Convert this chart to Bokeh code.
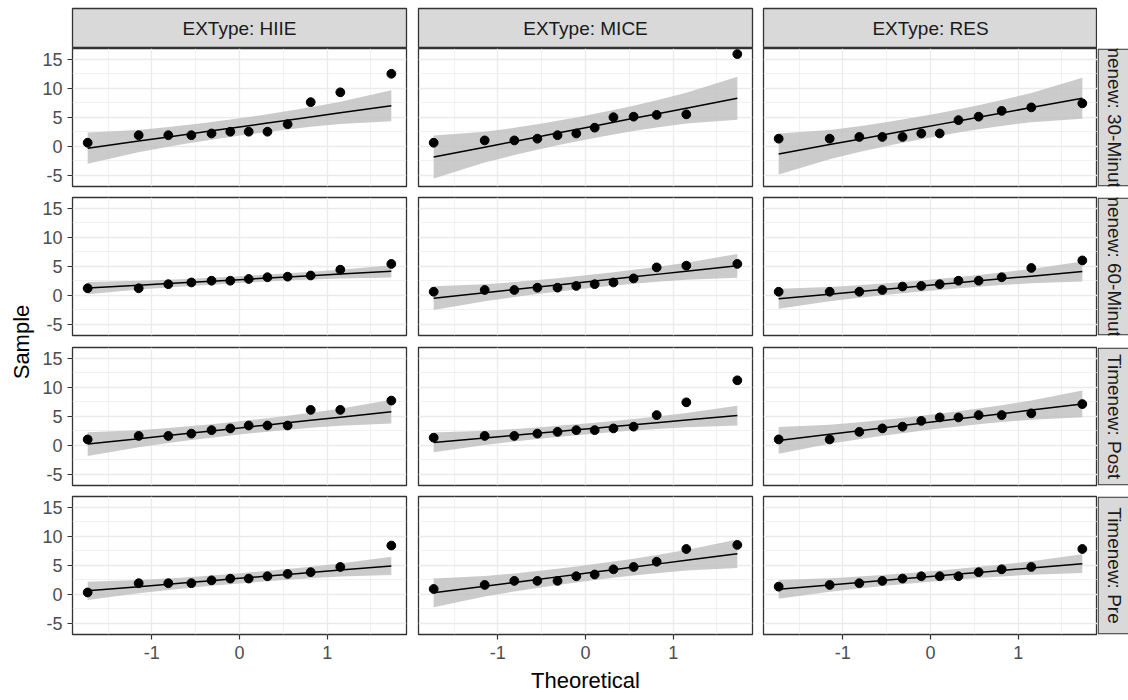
import math
import numpy as np
from bokeh.plotting import figure
from bokeh.layouts import row, column
from bokeh.models import (Range1d, FixedTicker, LinearAxis, Grid, ColumnDataSource,
                          PrintfTickFormatter)
from bokeh.core.properties import value
from bokeh.embed import file_html
from bokeh.resources import INLINE

# ---------------- data ----------------
ex_types = ["HIIE", "MICE", "RES"]
time_labels = ["Timenew: 30-Minutes", "Timenew: 60-Minutes", "Timenew: Post", "Timenew: Pre"]
theoretical = [-1.732, -1.150, -0.812, -0.549, -0.319, -0.105,
               0.105, 0.319, 0.549, 0.812, 1.150, 1.732]

hiie_30 = [0.6, 1.9, 1.9, 1.9, 2.2, 2.5, 2.5, 2.5, 3.8, 7.6, 9.3, 12.5]
mice_30 = [0.6, 1.0, 1.0, 1.3, 1.9, 2.2, 3.2, 5.0, 5.1, 5.4, 5.5, 15.9]
res_30 = [1.3, 1.3, 1.6, 1.6, 1.6, 2.2, 2.2, 4.5, 5.1, 6.1, 6.7, 7.4]

hiie_60 = [1.2, 1.2, 1.9, 2.2, 2.5, 2.5, 2.8, 3.1, 3.2, 3.4, 4.4, 5.4]
mice_60 = [0.6, 0.9, 0.9, 1.3, 1.3, 1.6, 1.9, 2.2, 2.9, 4.8, 5.1, 5.4]
res_60 = [0.6, 0.6, 0.6, 0.9, 1.5, 1.6, 1.9, 2.5, 2.5, 3.1, 4.7, 6.0]

hiie_post = [1.0, 1.6, 1.6, 2.0, 2.6, 2.9, 3.4, 3.4, 3.4, 6.1, 6.1, 7.7]
mice_post = [1.3, 1.6, 1.6, 2.0, 2.3, 2.6, 2.6, 2.9, 3.2, 5.2, 7.4, 11.2]
res_post = [1.0, 1.0, 2.3, 2.9, 3.2, 4.2, 4.8, 4.8, 5.2, 5.2, 5.5, 7.1]

hiie_pre = [0.3, 1.9, 1.9, 1.9, 2.4, 2.7, 2.7, 3.1, 3.5, 3.8, 4.7, 8.4]
mice_pre = [0.9, 1.6, 2.3, 2.3, 2.3, 3.1, 3.4, 4.3, 4.7, 5.6, 7.8, 8.5]
res_pre = [1.3, 1.6, 1.9, 2.3, 2.7, 3.1, 3.1, 3.1, 3.8, 4.3, 4.7, 7.8]

samples = [[hiie_30, mice_30, res_30],
           [hiie_60, mice_60, res_60],
           [hiie_post, mice_post, res_post],
           [hiie_pre, mice_pre, res_pre]]

x_ticks = [-1, 0, 1]
x_minor = [-1.5, -0.5, 0.5, 1.5]
y_ticks = [-5, 0, 5, 10, 15]
y_minor = [-2.5, 2.5, 7.5, 12.5]

# ---------------- style ----------------
FONT = "Liberation Sans"
STRIP_FILL = "#D9D9D9"
BORDER = "#333333"
GRID = "#EBEBEB"
TICK_TXT = "#4D4D4D"

PANEL_W, PANEL_H = 334, 138
STRIP_H = 40
LEFT_W = 36
col_borders = [(36, 6), (6, 5), (6, 0)]
row_borders = [(0, 5), (6, 6), (6, 5), (6, 66)]


def qq_stats(sample):
    """qq line through quartiles and 95% pointwise band (as stat_qq_line / stat_qq_band)."""
    y = np.sort(np.asarray(sample, float))
    x = np.asarray(theoretical, float)
    q25, q75 = np.percentile(y, [25, 75])
    z = 0.6744898
    slope = (q75 - q25) / (2 * z)
    intercept = q25 + slope * z
    fit = intercept + slope * x
    p = np.array([0.5 * (1 + math.erf(v / math.sqrt(2))) for v in x])
    dens = np.exp(-x ** 2 / 2) / math.sqrt(2 * math.pi)
    se = slope / dens * np.sqrt(p * (1 - p) / len(y))
    return y, fit, fit - 1.959964 * se, fit + 1.959964 * se


def strip_clean(p):
    p.center = [r for r in p.center if not isinstance(r, Grid)]


def base_fig(**kw):
    p = figure(toolbar_location=None, output_backend="svg",
               x_axis_location=None, y_axis_location=None,
               border_fill_color="white", min_border=0, **kw)
    strip_clean(p)
    return p


def make_panel(r, c):
    lb, rb = col_borders[c]
    tb, bb = row_borders[r]
    p = base_fig(frame_width=PANEL_W, frame_height=PANEL_H,
                 min_border_left=lb, min_border_right=rb,
                 min_border_top=tb, min_border_bottom=bb,
                 x_range=Range1d(-1.905, 1.905), y_range=Range1d(-6.95, 16.86),
                 background_fill_color="white",
                 outline_line_color=BORDER, outline_line_width=1.3)
    for dim, tk, mn in ((0, x_ticks, x_minor), (1, y_ticks, y_minor)):
        g = Grid(dimension=dim, ticker=FixedTicker(ticks=tk, minor_ticks=mn),
                 grid_line_color=GRID, grid_line_width=1.3,
                 minor_grid_line_color=GRID, minor_grid_line_width=0.7)
        p.add_layout(g, "center")

    y, fit, lo, hi = qq_stats(samples[r][c])
    src = ColumnDataSource(dict(x=theoretical, y=y, fit=fit, lo=lo, hi=hi))
    p.varea(x="x", y1="lo", y2="hi", source=src, fill_color="#BEBEBE", fill_alpha=0.8)
    p.line(x="x", y="fit", source=src, line_color="black", line_width=1.5)
    p.scatter(x="x", y="y", source=src, size=8.8, fill_color="black", line_color="black")

    common = dict(axis_line_color=None, major_tick_line_color=BORDER,
                  major_tick_line_width=1.2, major_tick_out=5, major_tick_in=0,
                  minor_tick_line_color=None, major_label_text_font=FONT,
                  major_label_text_font_size="18px", major_label_text_color=TICK_TXT,
                  formatter=PrintfTickFormatter(format="%d"))
    if c == 0:
        ax = LinearAxis(ticker=FixedTicker(ticks=y_ticks), major_label_standoff=5, **common)
        p.add_layout(ax, "left")
    if r == 3:
        ax = LinearAxis(ticker=FixedTicker(ticks=x_ticks), major_label_standoff=6, **common)
        if c == 1:
            ax.axis_label = "Theoretical"
            ax.axis_label_text_font = FONT
            ax.axis_label_text_font_size = "22px"
            ax.axis_label_text_font_style = "normal"
            ax.axis_label_text_color = "black"
            ax.axis_label_standoff = 6
        p.add_layout(ax, "below")
    return p


def make_top_strip(c):
    lb, rb = col_borders[c]
    s = base_fig(frame_width=PANEL_W, frame_height=STRIP_H,
                 min_border_left=lb, min_border_right=rb,
                 min_border_top=8, min_border_bottom=0,
                 x_range=Range1d(0, 1), y_range=Range1d(0, 1),
                 background_fill_color=STRIP_FILL,
                 outline_line_color=BORDER, outline_line_width=1.3)
    s.text(x=[0.5], y=[0.5], text=["EXType: " + ex_types[c]], text_align="center",
           text_baseline="middle", text_font=value(FONT), text_font_size="19px",
           text_color="#1A1A1A")
    return s


def make_side_strip(r):
    tb, bb = row_borders[r]
    w = 31
    s = base_fig(frame_width=w, frame_height=PANEL_H,
                 min_border_left=0, min_border_right=0,
                 min_border_top=tb, min_border_bottom=bb,
                 x_range=Range1d(0, w), y_range=Range1d(0, PANEL_H),
                 background_fill_color="white", outline_line_color=None)
    s.quad(left=[0.6], right=[40], bottom=[0.6], top=[PANEL_H - 0.6],
           fill_color=STRIP_FILL, line_color=BORDER, line_width=1.3)
    s.text(x=[17], y=[PANEL_H / 2], text=[time_labels[r]], angle=-math.pi / 2,
           text_align="center", text_baseline="middle", text_font=value(FONT),
           text_font_size="19px", text_color="#1A1A1A")
    return s


sample_fig = base_fig(frame_width=LEFT_W, frame_height=700,
                      x_range=Range1d(0, LEFT_W), y_range=Range1d(700, 0),
                      background_fill_color="white", outline_line_color=None)
sample_fig.text(x=[21], y=[341.5], text=["Sample"], angle=math.pi / 2,
                text_align="center", text_baseline="middle", text_font=value(FONT),
                text_font_size="22px", text_color="black")

rows = [row(*[make_top_strip(c) for c in range(3)])]
for r in range(4):
    rows.append(row(*[make_panel(r, c) for c in range(3)], make_side_strip(r)))

layout = row(sample_fig, column(*rows))

open("out.html", "w").write(file_html(layout, INLINE))
